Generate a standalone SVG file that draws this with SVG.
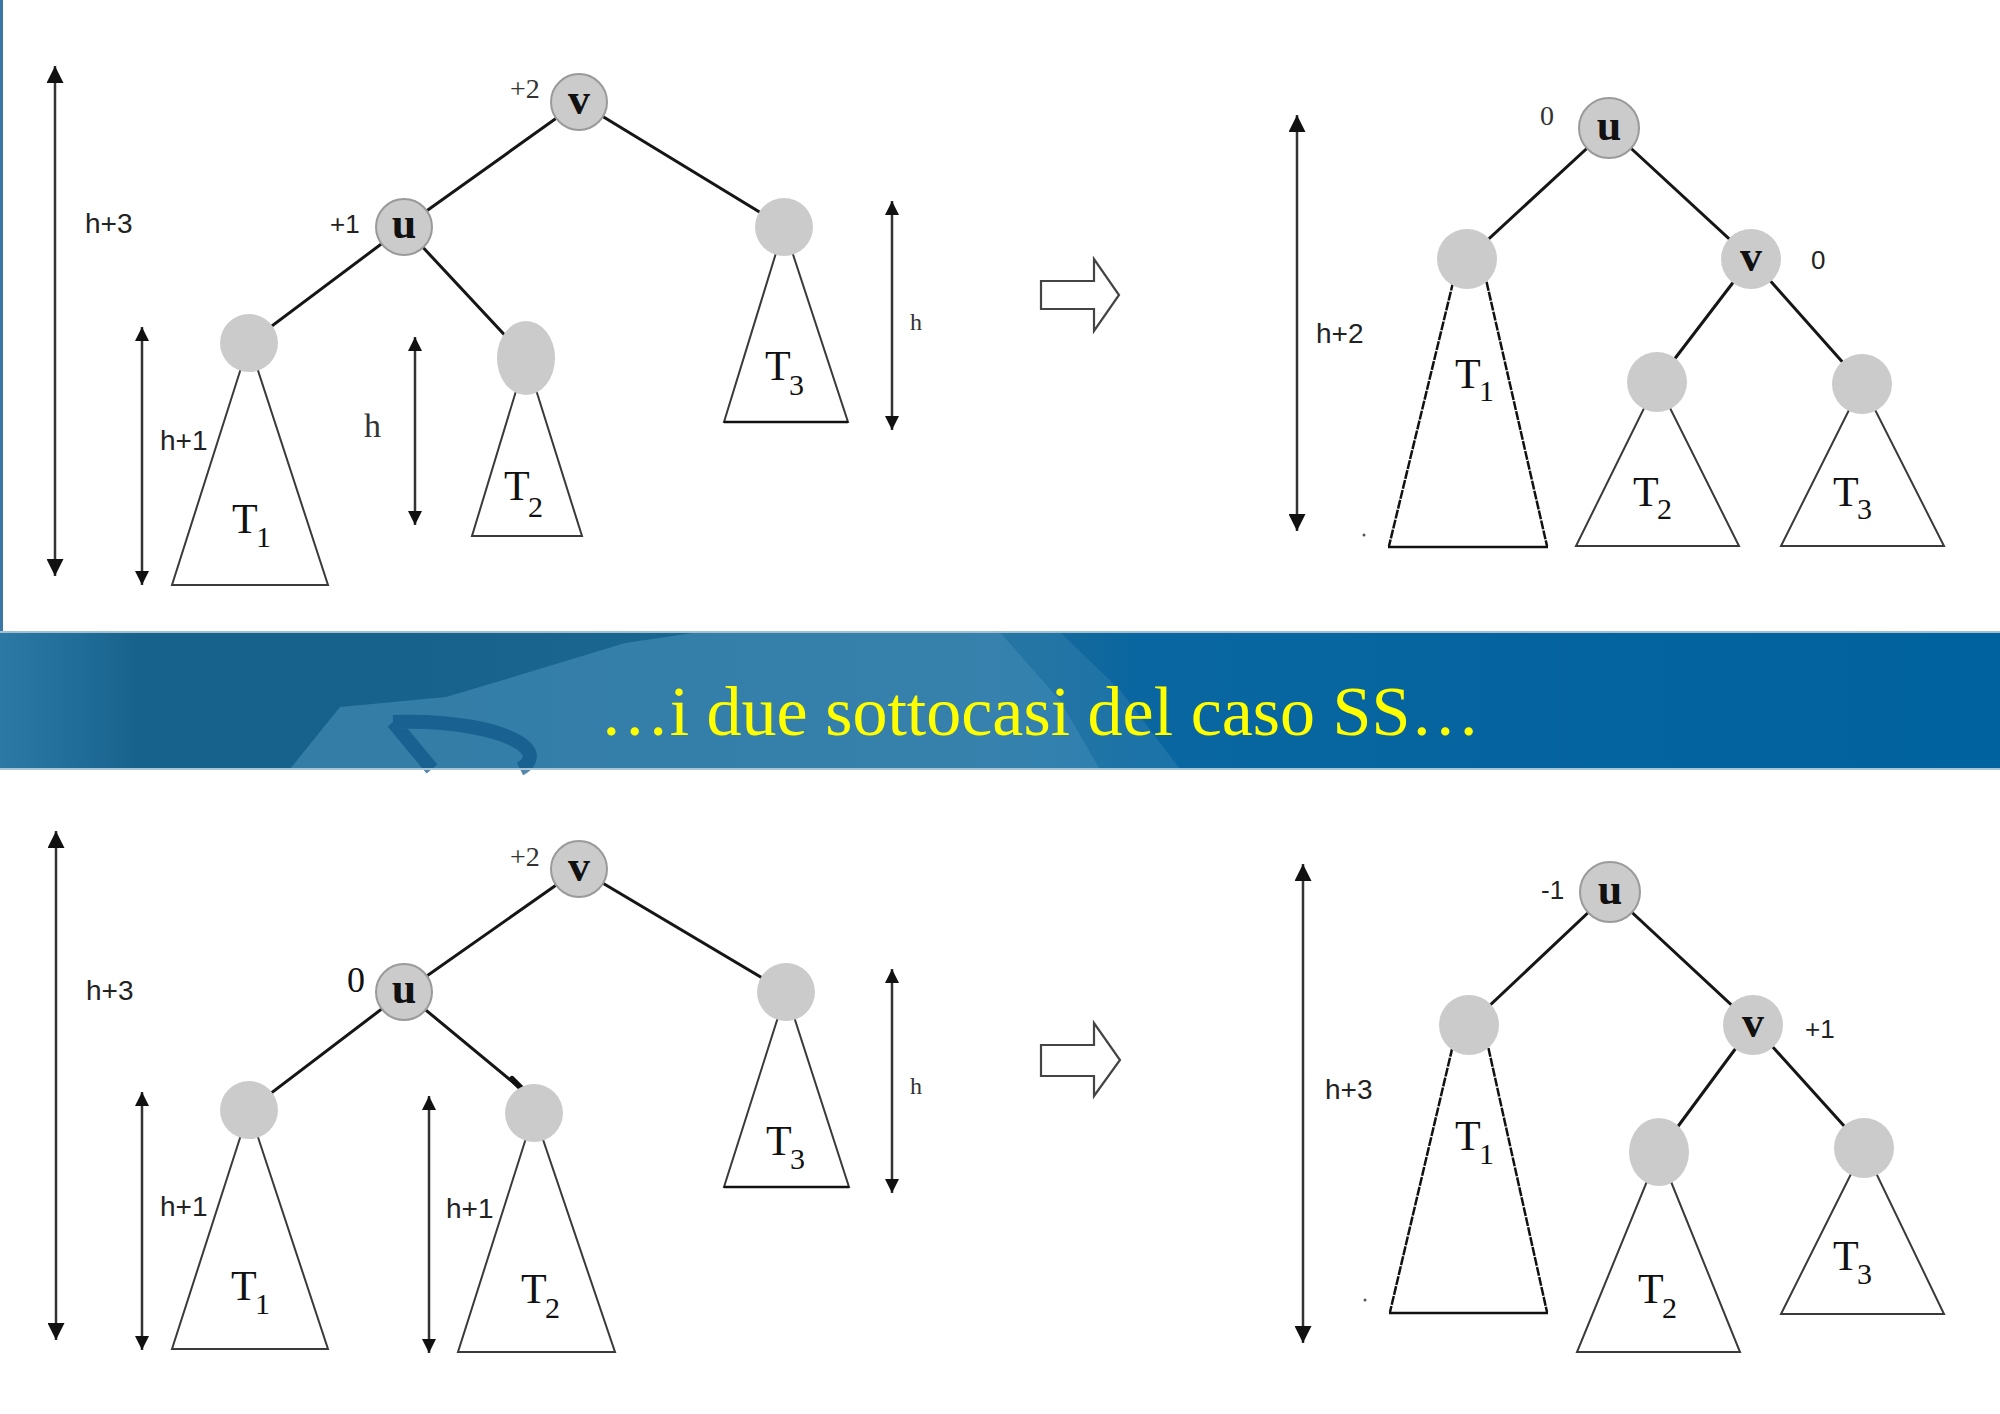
<svg xmlns="http://www.w3.org/2000/svg" width="2000" height="1414" viewBox="0 0 2000 1414">
<defs>
<style>
.edge{stroke:#161616;stroke-width:3;fill:none;stroke-linecap:round}
.tri{stroke:#3a3a3a;stroke-width:2;fill:none}
.trid{stroke:#111;stroke-width:2.5;fill:none;stroke-dasharray:9 1.2}
.base{stroke:#111;stroke-width:2.6}
.nd{fill:#cbcbcb}
.ndo{fill:#cbcbcb;stroke:#9a9a9a;stroke-width:2}
.nl{font-family:"Liberation Serif",serif;font-weight:bold;font-size:44px;fill:#111;text-anchor:middle}
.tt{font-family:"Liberation Serif",serif;font-size:42px;fill:#111}
.ts{font-family:"Liberation Serif",serif;font-size:30px;fill:#111}
.bs{font-family:"Liberation Serif",serif;font-size:28px;fill:#333}
.sa{font-family:"Liberation Sans",sans-serif;font-size:26px;fill:#222}
.hl{font-family:"Liberation Sans",sans-serif;font-size:28px;fill:#222}
.hs{font-family:"Liberation Serif",serif;fill:#333}
.ar{stroke:#333;stroke-width:2.5;fill:none}
.hol{fill:#fff;stroke:#444;stroke-width:2.2}
</style>
<marker id="big" viewBox="0 0 10 10" refX="10" refY="5" markerUnits="userSpaceOnUse" markerWidth="28" markerHeight="17" orient="auto-start-reverse"><path d="M0,0 L10,5 L0,10 z" fill="#111"/></marker>
<marker id="sm" viewBox="0 0 10 10" refX="10" refY="5" markerUnits="userSpaceOnUse" markerWidth="18" markerHeight="14" orient="auto-start-reverse"><path d="M0,0 L10,5 L0,10 z" fill="#111"/></marker>
<linearGradient id="bannerGrad" x1="0" y1="0" x2="1" y2="0">
<stop offset="0" stop-color="#2c79a6"/>
<stop offset="0.035" stop-color="#226e9b"/>
<stop offset="0.07" stop-color="#17628c"/>
<stop offset="0.2" stop-color="#17628c"/>
<stop offset="0.5" stop-color="#1d6c99"/>
<stop offset="0.57" stop-color="#0966a0"/>
<stop offset="1" stop-color="#00629e"/>
</linearGradient>
</defs>
<rect x="0" y="0" width="2000" height="1414" fill="#fff"/>
<line x1="1.5" y1="0" x2="1.5" y2="632" stroke="#3a77a5" stroke-width="3"/>

<!-- banner -->
<g id="banner">
<rect x="0" y="632" width="2000" height="137" fill="url(#bannerGrad)"/>
<path d="M290,769 L340,707 L446,697 L513,677 L625,643 L700,632 L1000,632 L1060,700 L1100,769 Z" fill="#4a93bd" opacity="0.55"/>
<path d="M1000,632 L1060,700 L1100,769 L1180,769 L1120,690 L1060,632 Z" fill="#2f7fae" opacity="0.5"/>
<path d="M393,722 C445,720 505,728 526,748 C534,757 528,765 520,769 M393,722 L432,769" stroke="#0d5686" stroke-width="14" fill="none" opacity="0.7"/>
<line x1="0" y1="632" x2="2000" y2="632" stroke="#9fbfd3" stroke-width="2"/>
<line x1="0" y1="769" x2="2000" y2="769" stroke="#a9c6d8" stroke-width="2"/>
<text x="1040" y="735" font-family="Liberation Serif, serif" font-size="70" fill="#ffff00" text-anchor="middle">…i due sottocasi del caso SS…</text>
</g>

<!-- ================= TOP LEFT ================= -->
<g id="tl-connectors">
<line class="edge" x1="579" y1="102" x2="404" y2="227"/>
<line class="edge" x1="579" y1="102" x2="784" y2="227"/>
<line class="edge" x1="404" y1="227" x2="249" y2="343"/>
<line class="edge" x1="404" y1="227" x2="526" y2="358"/>
<line class="ar" x1="55" y1="66" x2="55" y2="576" marker-start="url(#big)" marker-end="url(#big)"/>
<line class="ar" x1="142" y1="327" x2="142" y2="585" marker-start="url(#sm)" marker-end="url(#sm)"/>
<line class="ar" x1="415" y1="337" x2="415" y2="525" marker-start="url(#sm)" marker-end="url(#sm)"/>
<line class="ar" x1="892" y1="201" x2="892" y2="430" marker-start="url(#sm)" marker-end="url(#sm)"/>
</g>
<g id="tl-T1"><path class="tri" d="M249,343 L172,585 L328,585 Z"/><circle class="nd" cx="249" cy="343" r="29"/><text class="tt" x="232" y="533">T</text><text class="ts" x="256" y="547">1</text></g>
<g id="tl-T2"><path class="tri" d="M526,358 L472,536 L582,536 Z"/><ellipse class="nd" cx="526" cy="358" rx="29" ry="37"/><text class="tt" x="504" y="500">T</text><text class="ts" x="528" y="517">2</text></g>
<g id="tl-T3"><path class="tri" d="M784,227 L724,422 L848,422 Z"/><line class="base" x1="724" y1="422" x2="848" y2="422"/><circle class="nd" cx="784" cy="227" r="29"/><text class="tt" x="765" y="380">T</text><text class="ts" x="789" y="395">3</text></g>
<g id="tl-v"><circle class="ndo" cx="579" cy="102" r="28"/><text class="nl" x="579" y="114">v</text><text class="bs" x="510" y="98">+2</text></g>
<g id="tl-u"><circle class="ndo" cx="404" cy="227" r="28"/><text class="nl" x="404" y="238">u</text><text class="sa" x="330" y="233">+1</text></g>
<g id="tl-labels">
<text class="hl" x="85" y="233">h+3</text>
<text class="hl" x="160" y="450">h+1</text>
<text class="hs" x="364" y="437" font-size="34">h</text>
<text class="hs" x="910" y="330" font-size="24">h</text>
</g>
<g id="tl-arrow"><path class="hol" d="M1041,281 L1094,281 L1094,259 L1119,295 L1094,331 L1094,309 L1041,309 Z"/></g>

<!-- ================= TOP RIGHT ================= -->
<g id="tr-connectors">
<line class="edge" x1="1609" y1="128" x2="1467" y2="259"/>
<line class="edge" x1="1609" y1="128" x2="1751" y2="259"/>
<line class="edge" x1="1751" y1="259" x2="1657" y2="382"/>
<line class="edge" x1="1751" y1="259" x2="1862" y2="384"/>
<line class="ar" x1="1297" y1="115" x2="1297" y2="531" marker-start="url(#big)" marker-end="url(#big)"/>
</g>
<g id="tr-T1"><path class="trid" d="M1458,262 L1389,546 M1482,262 L1547,546"/><line class="base" x1="1388" y1="547" x2="1548" y2="547"/><circle class="nd" cx="1467" cy="259" r="30"/><circle cx="1364" cy="535" r="1.5" fill="#555"/><text class="tt" x="1455" y="388">T</text><text class="ts" x="1479" y="401">1</text></g>
<g id="tr-T2"><path class="tri" d="M1657,382 L1576,546 L1739,546 Z"/><circle class="nd" cx="1657" cy="382" r="30"/><text class="tt" x="1633" y="506">T</text><text class="ts" x="1657" y="519">2</text></g>
<g id="tr-T3"><path class="tri" d="M1862,384 L1781,546 L1944,546 Z"/><circle class="nd" cx="1862" cy="384" r="30"/><text class="tt" x="1833" y="506">T</text><text class="ts" x="1857" y="519">3</text></g>
<g id="tr-u"><circle class="ndo" cx="1609" cy="128" r="30"/><text class="nl" x="1609" y="140">u</text><text class="bs" x="1540" y="125">0</text></g>
<g id="tr-v"><circle class="nd" cx="1751" cy="259" r="30"/><text class="nl" x="1751" y="271">v</text><text class="sa" x="1811" y="269">0</text></g>
<g id="tr-labels"><text class="hl" x="1316" y="343">h+2</text></g>

<!-- ================= BOTTOM LEFT ================= -->
<g id="bl-connectors">
<line class="edge" x1="579" y1="869" x2="404" y2="992"/>
<line class="edge" x1="579" y1="869" x2="786" y2="992"/>
<line class="edge" x1="404" y1="992" x2="249" y2="1110"/>
<line class="edge" x1="404" y1="992" x2="526" y2="1093"/>
<line x1="512" y1="1079" x2="526" y2="1093" stroke="#111" stroke-width="6" stroke-linecap="round"/>
<line class="ar" x1="56" y1="831" x2="56" y2="1340" marker-start="url(#big)" marker-end="url(#big)"/>
<line class="ar" x1="142" y1="1092" x2="142" y2="1350" marker-start="url(#sm)" marker-end="url(#sm)"/>
<line class="ar" x1="429" y1="1096" x2="429" y2="1353" marker-start="url(#sm)" marker-end="url(#sm)"/>
<line class="ar" x1="892" y1="969" x2="892" y2="1193" marker-start="url(#sm)" marker-end="url(#sm)"/>
</g>
<g id="bl-T1"><path class="tri" d="M249,1110 L172,1349 L328,1349 Z"/><circle class="nd" cx="249" cy="1110" r="29"/><text class="tt" x="231" y="1300">T</text><text class="ts" x="255" y="1314">1</text></g>
<g id="bl-T2"><path class="tri" d="M534,1113 L458,1352 L615,1352 Z"/><circle class="nd" cx="534" cy="1113" r="29"/><text class="tt" x="521" y="1303">T</text><text class="ts" x="545" y="1318">2</text></g>
<g id="bl-T3"><path class="tri" d="M786,992 L724,1187 L849,1187 Z"/><line class="base" x1="724" y1="1187" x2="849" y2="1187"/><circle class="nd" cx="786" cy="992" r="29"/><text class="tt" x="766" y="1155">T</text><text class="ts" x="790" y="1169">3</text></g>
<g id="bl-v"><circle class="ndo" cx="579" cy="869" r="28"/><text class="nl" x="579" y="881">v</text><text class="bs" x="510" y="866">+2</text></g>
<g id="bl-u"><circle class="ndo" cx="404" cy="992" r="28"/><text class="nl" x="404" y="1003">u</text><text x="347" y="992" font-family="Liberation Serif, serif" font-size="36" fill="#111">0</text></g>
<g id="bl-labels">
<text class="hl" x="86" y="1000">h+3</text>
<text class="hl" x="160" y="1216">h+1</text>
<text class="hl" x="446" y="1218">h+1</text>
<text class="hs" x="910" y="1094" font-size="24">h</text>
</g>
<g id="bl-arrow"><path class="hol" d="M1041,1045 L1094,1045 L1094,1023 L1120,1060 L1094,1096 L1094,1076 L1041,1076 Z"/></g>

<!-- ================= BOTTOM RIGHT ================= -->
<g id="br-connectors">
<line class="edge" x1="1610" y1="892" x2="1469" y2="1025"/>
<line class="edge" x1="1610" y1="892" x2="1753" y2="1025"/>
<line class="edge" x1="1753" y1="1025" x2="1659" y2="1152"/>
<line class="edge" x1="1753" y1="1025" x2="1864" y2="1148"/>
<line class="ar" x1="1303" y1="864" x2="1303" y2="1343" marker-start="url(#big)" marker-end="url(#big)"/>
</g>
<g id="br-T1"><path class="trid" d="M1457,1028 L1390,1312 M1484,1028 L1547,1312"/><line class="base" x1="1389" y1="1313" x2="1548" y2="1313"/><circle class="nd" cx="1469" cy="1025" r="30"/><circle cx="1365" cy="1300" r="1.5" fill="#555"/><text class="tt" x="1455" y="1150">T</text><text class="ts" x="1479" y="1164">1</text></g>
<g id="br-T2"><path class="tri" d="M1659,1152 L1577,1352 L1740,1352 Z"/><ellipse class="nd" cx="1659" cy="1152" rx="30" ry="34"/><text class="tt" x="1638" y="1303">T</text><text class="ts" x="1662" y="1318">2</text></g>
<g id="br-T3"><path class="tri" d="M1864,1148 L1781,1314 L1944,1314 Z"/><circle class="nd" cx="1864" cy="1148" r="30"/><text class="tt" x="1833" y="1270">T</text><text class="ts" x="1857" y="1284">3</text></g>
<g id="br-u"><circle class="ndo" cx="1610" cy="892" r="30"/><text class="nl" x="1610" y="904">u</text><text class="sa" x="1541" y="899">-1</text></g>
<g id="br-v"><circle class="nd" cx="1753" cy="1025" r="30"/><text class="nl" x="1753" y="1037">v</text><text class="sa" x="1805" y="1038">+1</text></g>
<g id="br-labels"><text class="hl" x="1325" y="1099">h+3</text></g>
</svg>
